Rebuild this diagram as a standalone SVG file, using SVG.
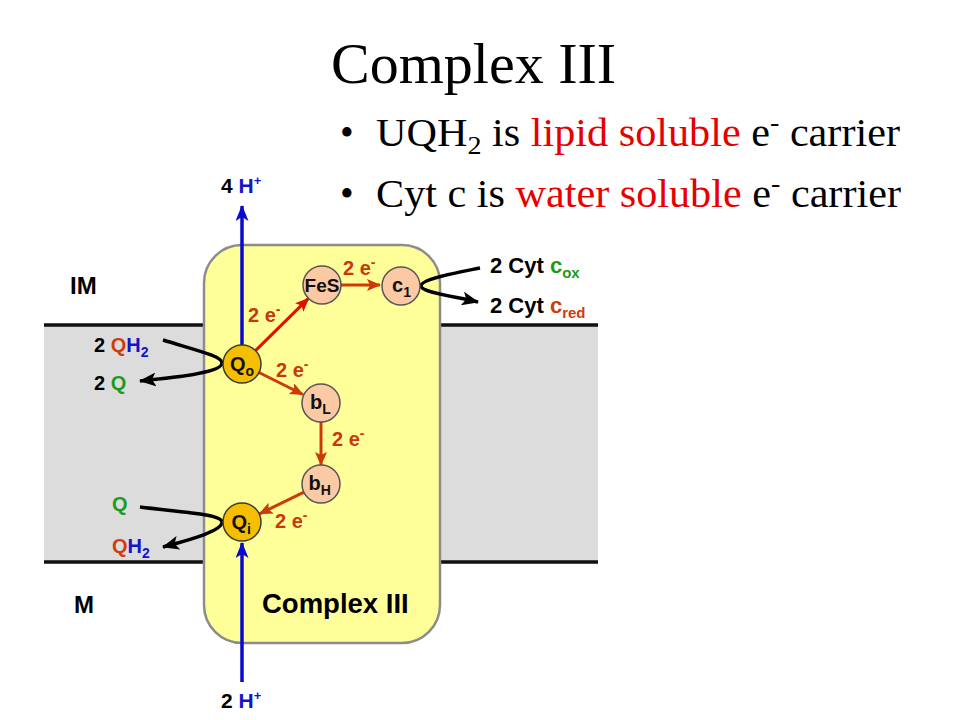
<svg xmlns="http://www.w3.org/2000/svg" width="960" height="720" viewBox="0 0 960 720">
<style>
.serif{font-family:"Liberation Serif","Times New Roman",serif;fill:#000}
.sans{font-family:"Liberation Sans",Arial,Helvetica,sans-serif;font-weight:bold;fill:#000}
.red{fill:#e60000}
.blue{fill:#1414c8}
.green{fill:#1c9a1c}
.orange{fill:#d03c0c}
.elab{font-family:"Liberation Sans",Arial,sans-serif;font-weight:bold;font-size:20px;fill:#c8380a}
.node{font-family:"Liberation Sans",Arial,sans-serif;font-weight:bold;fill:#111}
.q{fill:#f5bf00;stroke:#3a3a3a;stroke-width:1.5}
.p{fill:#fbc9a3;stroke:#555;stroke-width:1.5}
.earrow{stroke:#cc3a0a;stroke-width:3;fill:none;marker-end:url(#ah-red)}
.blk{stroke:#000;stroke-width:3.5;fill:none;marker-end:url(#ah-blk)}
.bl{stroke:#0a0acc;stroke-width:3.5;fill:none;marker-end:url(#ah-blue)}
</style>
<defs>
<marker id="ah-red" markerWidth="14" markerHeight="12" refX="13" refY="6" orient="auto" markerUnits="userSpaceOnUse"><path d="M0,0 L14,6 L0,12 L3,6 Z" fill="#cc3a0a"/></marker>
<marker id="ah-red2" markerWidth="14" markerHeight="12" refX="13" refY="6" orient="auto" markerUnits="userSpaceOnUse"><path d="M0,0 L14,6 L0,12 L3,6 Z" fill="#dd1100"/></marker>
<marker id="ah-blk" markerWidth="17" markerHeight="14" refX="16" refY="7" orient="auto" markerUnits="userSpaceOnUse"><path d="M0,0 L17,7 L0,14 L4,7 Z" fill="#000"/></marker>
<marker id="ah-blue" markerWidth="16" markerHeight="13" refX="15" refY="6.5" orient="auto" markerUnits="userSpaceOnUse"><path d="M0,0 L16,6.5 L0,13 L4,6.5 Z" fill="#0a0acc"/></marker>
</defs>
<rect width="960" height="720" fill="#fff"/>

<g id="title">
<text class="serif" x="331" y="83" font-size="58">Complex III</text>
</g>
<g id="bullets" class="serif" font-size="39">
<text x="340" y="146">•</text>
<text x="376" y="146" textLength="524" lengthAdjust="spacingAndGlyphs">UQH<tspan font-size="26" dy="8">2</tspan><tspan dy="-8"> is </tspan><tspan class="red">lipid soluble</tspan> e<tspan font-size="26" dy="-15">-</tspan><tspan dy="15"> carrier</tspan></text>
<text x="340" y="207">•</text>
<text x="376" y="207" textLength="525" lengthAdjust="spacingAndGlyphs">Cyt c is <tspan class="red">water soluble</tspan> e<tspan font-size="26" dy="-15">-</tspan><tspan dy="15"> carrier</tspan></text>
</g>

<g id="membrane">
<rect x="44" y="325" width="554" height="237" fill="#dcdcdc"/>
<line x1="44" y1="325" x2="598" y2="325" stroke="#111" stroke-width="3.5"/>
<line x1="44" y1="562" x2="598" y2="562" stroke="#111" stroke-width="3.5"/>
<text class="sans" x="70" y="294" font-size="24">IM</text>
<text class="sans" x="74" y="613" font-size="24">M</text>
</g>

<g id="complex3">
<rect x="204" y="245" width="236" height="398" rx="38" ry="38" fill="#ffff99" stroke="#8c8c8c" stroke-width="2.5"/>
<text class="sans" x="262" y="613" font-size="27.5">Complex III</text>
</g>

<g id="connectors">
<line class="bl" x1="242" y1="364" x2="242" y2="206"/>
<line class="bl" x1="242" y1="682" x2="242" y2="543"/>
<line x1="255.5" y1="350.6" x2="308.5" y2="298.4" stroke="#dd1100" stroke-width="3" marker-end="url(#ah-red2)"/>
<line class="earrow" x1="341" y1="285" x2="380" y2="285"/>
<line class="earrow" x1="259" y1="372.5" x2="303" y2="394.5"/>
<line class="earrow" x1="321" y1="422" x2="321" y2="465"/>
<line class="earrow" x1="304" y1="492.2" x2="259.5" y2="513.8"/>
<path class="blk" d="M163,340 C195,350 222,356 222,363 C222,372 182,377 140,381"/>
<path class="blk" d="M140,507 C180,512 222,514 222,522 C222,531 192,539 163,547"/>
<path class="blk" d="M480,268 C455,273 421,279 421,286 C421,292 452,296 478,302"/>
</g>

<g id="Qo"><circle class="q" cx="242" cy="364" r="19"/><text class="node" x="230" y="371" font-size="20">Q<tspan font-size="14" dy="5">o</tspan></text></g>
<g id="Qi"><circle class="q" cx="242" cy="522" r="19"/><text class="node" x="231.5" y="529" font-size="20">Q<tspan font-size="14" dy="5">i</tspan></text></g>
<g id="FeS"><circle class="p" cx="322" cy="285" r="19"/><text class="node" x="322" y="292" text-anchor="middle" font-size="19">FeS</text></g>
<g id="c1"><circle class="p" cx="401" cy="286" r="19"/><text class="node" x="392" y="292" font-size="20">c<tspan font-size="14" dy="5">1</tspan></text></g>
<g id="bL"><circle class="p" cx="321" cy="403" r="19"/><text class="node" x="310" y="409" font-size="20">b<tspan font-size="14" dy="5">L</tspan></text></g>
<g id="bH"><circle class="p" cx="321" cy="484" r="19"/><text class="node" x="308.5" y="490" font-size="20">b<tspan font-size="14" dy="5">H</tspan></text></g>

<g id="labels">
<text class="elab" x="343" y="275">2 e<tspan font-size="14" dy="-8">-</tspan></text>
<text class="elab" x="248" y="322">2 e<tspan font-size="14" dy="-8">-</tspan></text>
<text class="elab" x="276" y="377">2 e<tspan font-size="14" dy="-8">-</tspan></text>
<text class="elab" x="332" y="446">2 e<tspan font-size="14" dy="-8">-</tspan></text>
<text class="elab" x="275" y="528">2 e<tspan font-size="14" dy="-8">-</tspan></text>

<text class="sans" x="221" y="193" font-size="21">4 <tspan class="blue">H</tspan><tspan class="blue" font-size="13" dy="-8">+</tspan></text>
<text class="sans" x="221" y="708" font-size="21">2 <tspan class="blue">H</tspan><tspan class="blue" font-size="13" dy="-8">+</tspan></text>

<text class="sans" x="490" y="273" font-size="22">2 Cyt <tspan class="green">c</tspan><tspan class="green" font-size="15" dy="5">ox</tspan></text>
<text class="sans" x="490" y="313" font-size="22">2 Cyt <tspan class="orange">c</tspan><tspan class="orange" font-size="15" dy="5">red</tspan></text>

<text class="sans" x="94" y="352" font-size="20">2 <tspan class="orange">Q</tspan><tspan class="blue">H</tspan><tspan class="blue" font-size="14" dy="5">2</tspan></text>
<text class="sans" x="94" y="390" font-size="20">2 <tspan class="green">Q</tspan></text>
<text class="sans green" x="112" y="511" font-size="20">Q</text>
<text class="sans" x="112" y="553" font-size="20"><tspan class="orange">Q</tspan><tspan class="blue">H</tspan><tspan class="blue" font-size="14" dy="5">2</tspan></text>
</g>
</svg>
